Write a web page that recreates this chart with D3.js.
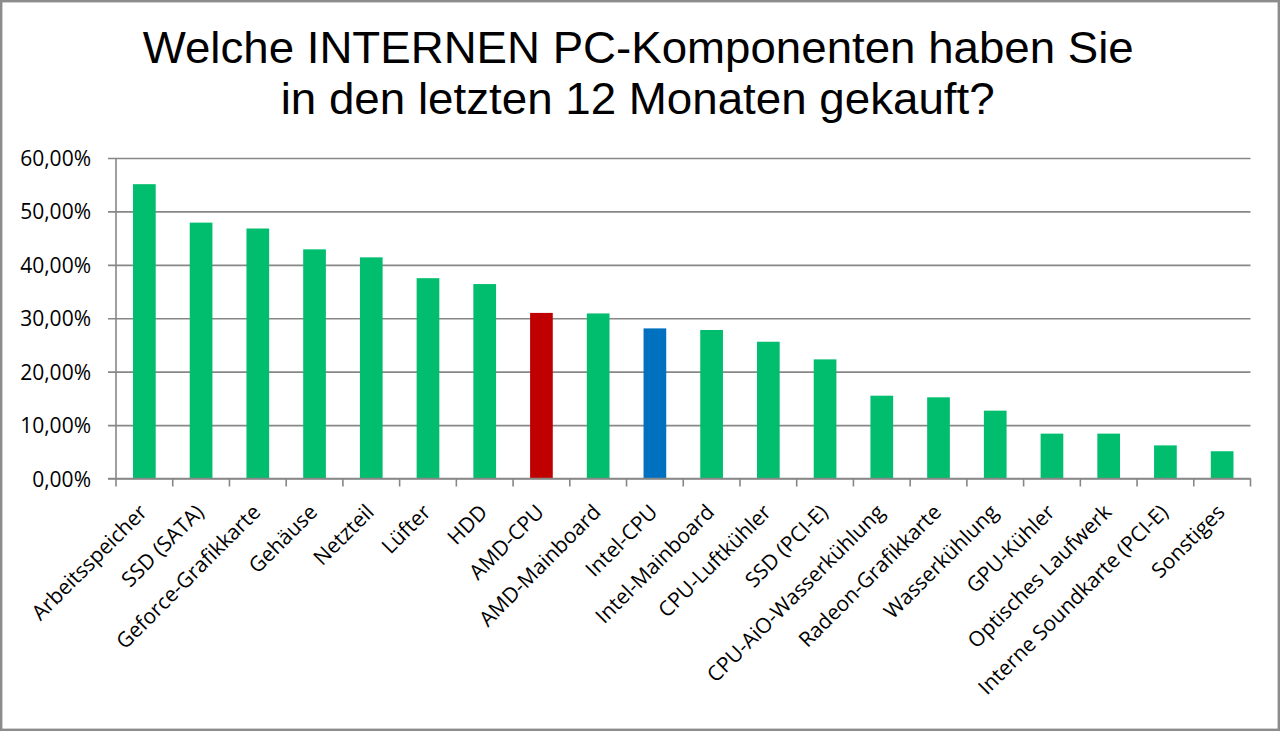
<!DOCTYPE html>
<html>
<head>
<meta charset="utf-8">
<script src="https://d3js.org/d3.v7.min.js"></script>
<style>
  body { margin: 0; background: #fff; }
  svg { display: block; }
</style>
</head>
<body>
<div id="chart"></div>
<script>
// Data (percent of respondents)
var categories = [
  "Arbeitsspeicher", "SSD (SATA)", "Geforce-Grafikkarte", "Gehäuse", "Netzteil",
  "Lüfter", "HDD", "AMD-CPU", "AMD-Mainboard", "Intel-CPU",
  "Intel-Mainboard", "CPU-Luftkühler", "SSD (PCI-E)", "CPU-AiO-Wasserkühlung", "Radeon-Grafikkarte",
  "Wasserkühlung", "GPU-Kühler", "Optisches Laufwerk", "Interne Soundkarte (PCI-E)", "Sonstiges"
];
var values = [
  55.1, 47.9, 46.8, 42.9, 41.4,
  37.5, 36.4, 31.0, 30.9, 28.1,
  27.8, 25.6, 22.3, 15.5, 15.2,
  12.7, 8.4, 8.4, 6.2, 5.1
];
var yTicks = [0, 10, 20, 30, 40, 50, 60];
var titleLines = [
  "Welche INTERNEN PC-Komponenten haben Sie",
  "in den letzten 12 Monaten gekauft?"
];

var svgWidth = 1280;
var svgHeight = 731;

var margin = { top: 158, right: 29.5, bottom: 252.5, left: 116 };
var chartWidth = svgWidth - margin.left - margin.right;
var chartHeight = svgHeight - margin.top - margin.bottom;

var barGreen = "#00be6e";
var highlight = { "AMD-CPU": "#c00000", "Intel-CPU": "#0070c0" };
var gridColor = "#878787";

var de = d3.formatLocale({ decimal: ",", thousands: ".", grouping: [3], currency: ["", " €"] });
var fmt = de.format(".2f");

var data = categories.map(function(c, i) { return { name: c, value: values[i] }; });

var svg = d3.select("#chart")
  .append("svg")
  .attr("width", svgWidth)
  .attr("height", svgHeight);

// outer frame
svg.append("rect")
  .attr("x", 1.2)
  .attr("y", 1.2)
  .attr("width", svgWidth - 2.4)
  .attr("height", svgHeight - 2.4)
  .attr("fill", "#fff")
  .attr("stroke", "#8c8c8c")
  .attr("stroke-width", 2.4);

// title
svg.append("g").selectAll("text")
  .data(titleLines)
  .enter()
  .append("text")
  .attr("x", (d, i) => i === 0 ? 142.7 : 280.7)
  .attr("y", (d, i) => i === 0 ? 62.7 : 114.3)
  .attr("textLength", (d, i) => i === 0 ? 991 : 714)
  .attr("lengthAdjust", "spacingAndGlyphs")
  .attr("font-family", "Liberation Sans, Arial, sans-serif")
  .attr("font-size", 44)
  .attr("fill", "#000")
  .text(d => d);

var chartGroup = svg.append("g")
  .attr("transform", `translate(${margin.left}, ${margin.top})`);

// Scales
var xScale = d3.scaleBand()
  .domain(categories)
  .range([0, chartWidth])
  .paddingInner(0.6)
  .paddingOuter(0.3);

var yScale = d3.scaleLinear()
  .domain([0, 60])
  .range([chartHeight, 0]);

// Gridlines + y axis
var yAxis = d3.axisLeft(yScale)
  .tickValues(yTicks)
  .tickSize(-chartWidth)
  .tickPadding(0)
  .tickFormat(d => fmt(d) + "%");

var yG = chartGroup.append("g").call(yAxis);
yG.select(".domain").remove();
yG.selectAll(".tick line")
  .attr("x1", -8)
  .attr("stroke", gridColor)
  .attr("stroke-width", 1.6);
yG.selectAll(".tick text")
  .attr("x", -25)
  .attr("dy", "0.36em")
  .attr("font-family", "Open Sans, sans-serif")
  .attr("font-size", 21)
  .attr("fill", "#000");

// vertical axis line
chartGroup.append("line")
  .attr("x1", 0).attr("x2", 0)
  .attr("y1", 0).attr("y2", chartHeight)
  .attr("stroke", gridColor)
  .attr("stroke-width", 1.6);

// category tick marks at band boundaries
var step = xScale.step();
var boundaries = d3.range(categories.length + 1);
chartGroup.append("g").selectAll("line")
  .data(boundaries)
  .enter()
  .append("line")
  .attr("x1", d => xScale(categories[0]) - step * 0.3 + d * step)
  .attr("x2", d => xScale(categories[0]) - step * 0.3 + d * step)
  .attr("y1", chartHeight)
  .attr("y2", chartHeight + 8)
  .attr("stroke", gridColor)
  .attr("stroke-width", 1.6);

// Bars
chartGroup.selectAll(".bar")
  .data(data)
  .enter()
  .append("rect")
  .attr("class", "bar")
  .attr("x", d => xScale(d.name))
  .attr("y", d => yScale(d.value))
  .attr("width", xScale.bandwidth())
  .attr("height", d => chartHeight - yScale(d.value))
  .attr("fill", d => highlight[d.name] || barGreen);

// bottom axis line over bar feet
chartGroup.append("line")
  .attr("x1", -8).attr("x2", chartWidth)
  .attr("y1", chartHeight).attr("y2", chartHeight)
  .attr("stroke", gridColor)
  .attr("stroke-width", 1.6);

// Category labels, rotated
chartGroup.append("g").selectAll("text")
  .data(categories)
  .enter()
  .append("text")
  .attr("transform", d => `translate(${xScale(d) + xScale.bandwidth() / 2 + 4}, ${chartHeight + 35}) rotate(-45)`)
  .attr("text-anchor", "end")
  .attr("font-family", "Open Sans, sans-serif")
  .attr("font-size", 21)
  .attr("fill", "#000")
  .text(d => d);
</script>
</body>
</html>
